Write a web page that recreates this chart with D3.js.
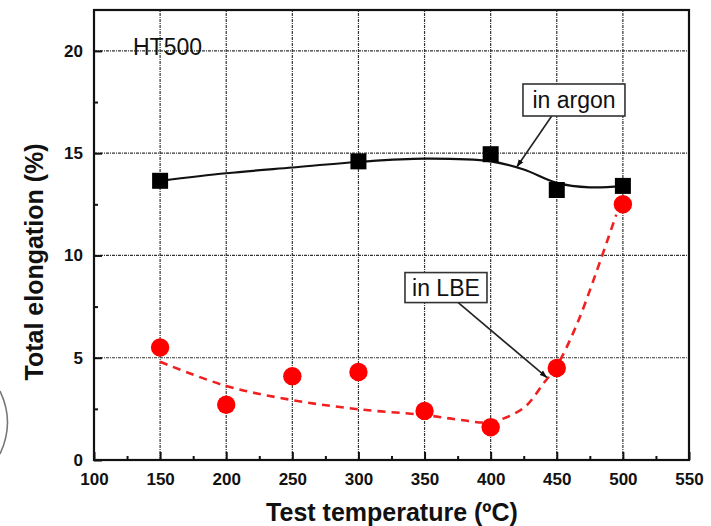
<!DOCTYPE html>
<html lang="en">
<head>
    <meta charset="UTF-8">
    <title>HT500 total elongation</title>
    <style>
        body { margin: 0; background: #fff; }
        svg { display: block; font-family: "Liberation Sans", Arial, sans-serif; }
        .tick-label { font-size: 17px; font-weight: bold; fill: #111; }
        .axis-title { font-size: 25px; font-weight: bold; fill: #111; }
        .note { font-size: 23px; fill: #111; }
    </style>
</head>
<body>
    <div id="chart"></div>
    <script src="https://d3js.org/d3.v7.min.js"></script>
    <script>
        // measured points
        const temps      = [150, 300, 400, 450, 500];
        const argon      = [13.65, 14.6, 14.95, 13.2, 13.4];
        const lbeTemps   = [150, 200, 250, 300, 350, 400, 450, 500];
        const lbe        = [5.5, 2.7, 4.1, 4.3, 2.4, 1.6, 4.5, 12.5];

        // guide curves as drawn in the figure
        const argonFitX  = [150, 200, 250, 300, 350, 400, 425, 450, 475, 500];
        const argonFitY  = [13.65, 14.02, 14.3, 14.57, 14.73, 14.6, 14.2, 13.55, 13.33, 13.4];
        const lbeFitX    = [150, 200, 250, 300, 350, 375, 400, 425, 440, 450, 465, 480, 495];
        const lbeFitY    = [4.8, 3.62, 2.93, 2.48, 2.2, 1.98, 1.86, 2.55, 3.75, 4.6, 6.6, 9.2, 12.0];

        const xTicks     = [100, 150, 200, 250, 300, 350, 400, 450, 500, 550];
        const yTicks     = [0, 5, 10, 15, 20];

        const W = 711, H = 526;
        const m = {left: 94, right: 22, top: 10, bottom: 66};

        const x = d3.scaleLinear().domain([100, 550]).range([m.left, W - m.right]);
        const y = d3.scaleLinear().domain([0, 22]).range([H - m.bottom, m.top]);

        const svg = d3.select("#chart").append("svg").attr("width", W).attr("height", H);

        // stray arc at the left edge of the scan
        svg.append("path")
            .attr("d", "M0,391 Q15,422 0,454")
            .attr("fill", "none").attr("stroke", "#777").attr("stroke-width", 1.6);

        // grid
        const grid = svg.append("g").attr("stroke", "#333").attr("stroke-width", 1.2)
            .attr("stroke-dasharray", "3,1,1,1");
        grid.selectAll(".gx").data(xTicks.slice(1, -1)).enter().append("line")
            .attr("x1", d => x(d)).attr("x2", d => x(d))
            .attr("y1", y(0)).attr("y2", m.top);
        grid.selectAll(".gy").data(yTicks.slice(1)).enter().append("line")
            .attr("x1", x(100)).attr("x2", x(550))
            .attr("y1", d => y(d)).attr("y2", d => y(d));

        // axes with inward ticks
        const xAxis = d3.axisBottom(x).tickValues(xTicks).tickSize(-8).tickPadding(13).tickFormat(d3.format("d"));
        const yAxis = d3.axisLeft(y).tickValues(yTicks).tickSize(-8).tickPadding(11).tickFormat(d3.format("d"));
        const xMinor = d3.axisBottom(x).tickValues(d3.range(125, 550, 50)).tickSize(-4).tickFormat("");
        const yMinor = d3.axisLeft(y).tickValues([2.5, 7.5, 12.5, 17.5]).tickSize(-4).tickFormat("");

        [[xAxis, "bottom"], [xMinor, "bottom"], [yAxis, "left"], [yMinor, "left"]].forEach(([ax, side]) => {
            const g = svg.append("g")
                .attr("transform", side === "bottom" ? `translate(0,${y(0)})` : `translate(${x(100)},0)`)
                .call(ax);
            g.select(".domain").remove();
            g.selectAll(".tick line").attr("stroke", "#111").attr("stroke-width", 2);
            g.selectAll(".tick text").attr("class", "tick-label").attr("font-family", null).attr("font-size", null);
        });

        // frame
        svg.append("rect")
            .attr("x", x(100)).attr("y", y(22))
            .attr("width", x(550) - x(100)).attr("height", y(0) - y(22))
            .attr("fill", "none").attr("stroke", "#111").attr("stroke-width", 2.2);

        // fitted curves
        const line = d3.line().x(d => x(d[0])).y(d => y(d[1])).curve(d3.curveCatmullRom.alpha(0.5));

        svg.append("path")
            .attr("d", line(d3.zip(lbeFitX, lbeFitY)))
            .attr("fill", "none").attr("stroke", "#f02020").attr("stroke-width", 2.6)
            .attr("stroke-dasharray", "8,6");

        svg.append("path")
            .attr("d", line(d3.zip(argonFitX, argonFitY)))
            .attr("fill", "none").attr("stroke", "#111").attr("stroke-width", 2.2);

        // markers
        svg.selectAll(".sq").data(d3.zip(temps, argon)).enter().append("rect")
            .attr("x", d => x(d[0]) - 8).attr("y", d => y(d[1]) - 8)
            .attr("width", 16).attr("height", 16).attr("fill", "#000");

        svg.selectAll(".dot").data(d3.zip(lbeTemps, lbe)).enter().append("circle")
            .attr("cx", d => x(d[0])).attr("cy", d => y(d[1])).attr("r", 9.2)
            .attr("fill", "#f00");

        // annotations
        svg.append("defs").append("marker")
            .attr("id", "head").attr("viewBox", "0 0 10 10").attr("refX", 9).attr("refY", 5)
            .attr("markerWidth", 5).attr("markerHeight", 5).attr("orient", "auto")
            .append("path").attr("d", "M0,1.5 L10,5 L0,8.5 Z").attr("fill", "#111");

        const notes = [
            {text: "in argon", cx: 463, cy: 17.6, w: 102, h: 32, from: [446.2, 16.82], to: [419.9, 14.34]},
            {text: "in LBE", cx: 366.2, cy: 8.43, w: 82, h: 30, from: [374.8, 7.73], to: [442.4, 4.04]}
        ];
        notes.forEach(n => {
            svg.append("line")
                .attr("x1", x(n.from[0])).attr("y1", y(n.from[1]))
                .attr("x2", x(n.to[0])).attr("y2", y(n.to[1]))
                .attr("stroke", "#222").attr("stroke-width", 1.6).attr("marker-end", "url(#head)");
            svg.append("rect")
                .attr("x", x(n.cx) - n.w / 2).attr("y", y(n.cy) - n.h / 2)
                .attr("width", n.w).attr("height", n.h)
                .attr("fill", "#fff").attr("stroke", "#333").attr("stroke-width", 1.6);
            svg.append("text").attr("class", "note")
                .attr("x", x(n.cx)).attr("y", y(n.cy) + 8)
                .attr("text-anchor", "middle").text(n.text);
        });

        svg.append("text").attr("class", "note")
            .attr("x", x(129.5)).attr("y", y(19.8)).text("HT500");

        // axis titles
        svg.append("text").attr("class", "axis-title")
            .attr("x", 392).attr("y", 521).attr("text-anchor", "middle")
            .text("Test temperature (ºC)");

        svg.append("text").attr("class", "axis-title")
            .attr("transform", "translate(43,262) rotate(-90)")
            .attr("text-anchor", "middle")
            .text("Total elongation (%)");
    </script>
</body>
</html>
